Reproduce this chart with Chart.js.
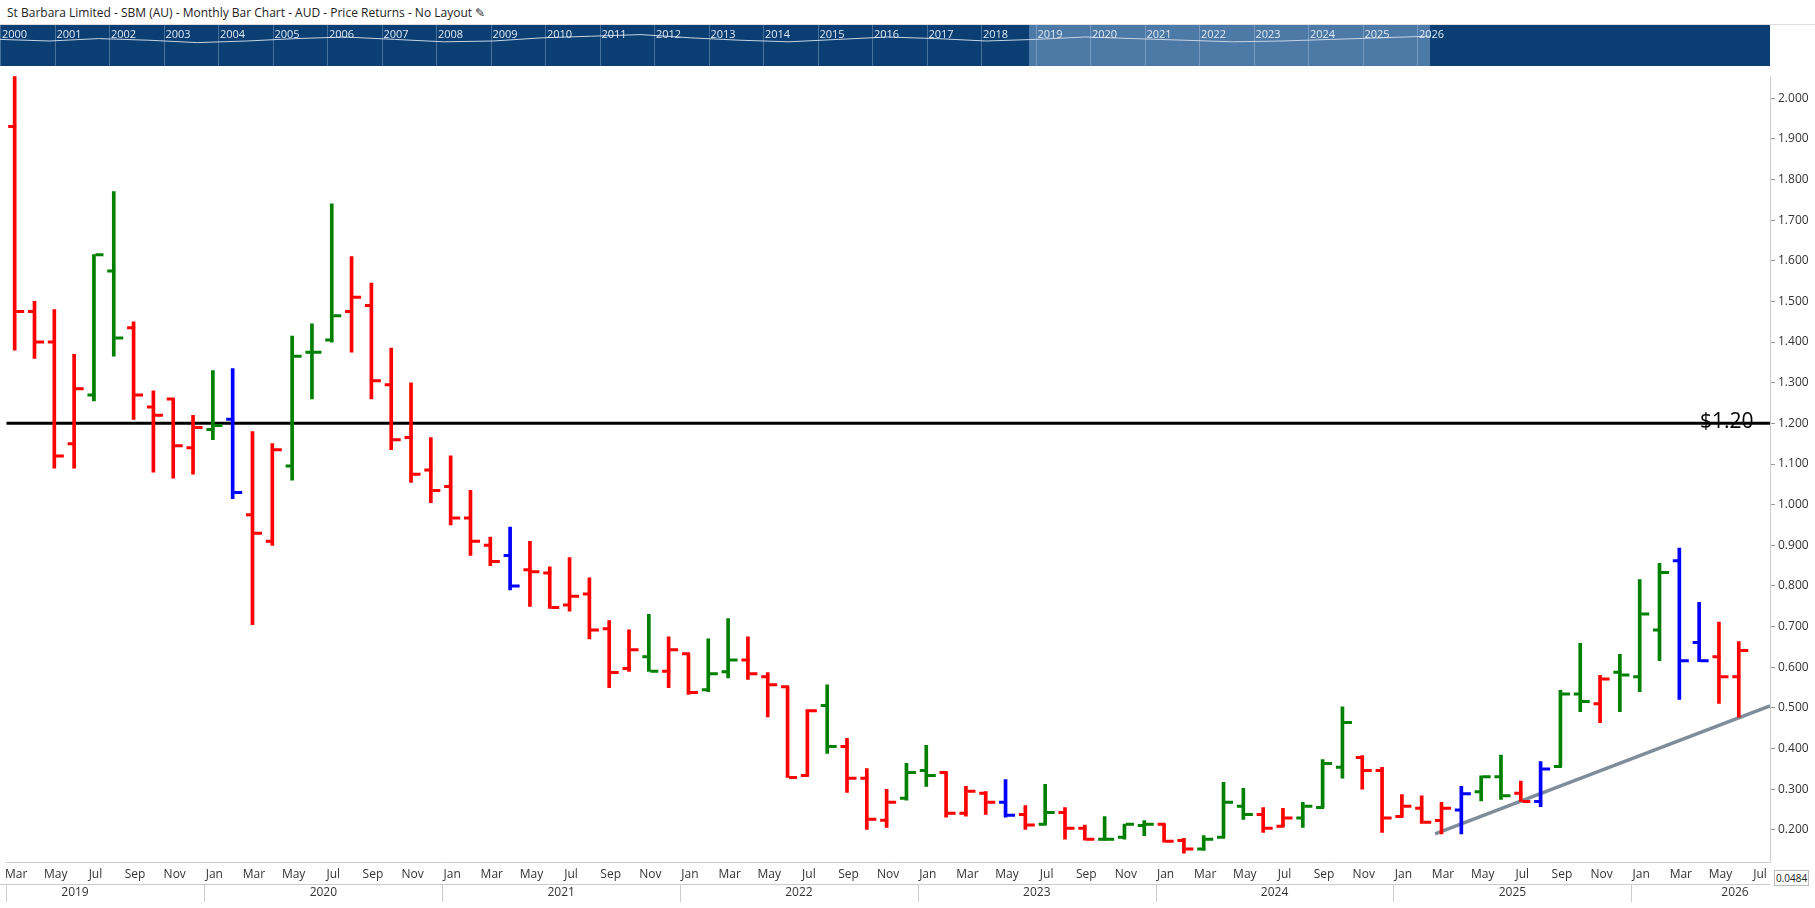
<!DOCTYPE html>
<html>
<head>
<meta charset="utf-8">
<script src="https://cdn.jsdelivr.net/npm/chart.js@4.4.1/dist/chart.umd.min.js"></script>
<style>
  body { margin: 0; width: 1815px; height: 908px; background: #fff; font-family: "Open Sans", sans-serif; overflow: hidden; }
  #title { height: 25px; line-height: 25px; font-size: 12px; color: #222; padding-left: 7px; border-bottom: 1px solid #ddd; box-sizing: border-box; }
  #nav { position: relative; height: 41px; width: 1770px; background: #0b3f74; overflow: hidden; }
  #nav .sel { position: absolute; left: 1029px; width: 401px; top: 0; height: 41px; background: #4d79a6; }
  #nav span { position: absolute; top: 1px; font-size: 11px; color: #dfe8f2; }
  #nav canvas { position: absolute; left: 0; top: 0; }
  #box { position: relative; width: 1815px; height: 836px; }
  #val { position: absolute; left: 1774px; top: 870px; font-size: 10px; color: #222; border: 1px solid #bbb; padding: 0 1px; background: #fff; }
</style>
</head>
<body>
<div id="title">St Barbara Limited - SBM (AU) - Monthly Bar Chart - AUD - Price Returns - No Layout &#9998;</div>
<div id="nav"><div class="sel"></div><canvas id="navline" width="1770" height="41"></canvas></div>
<div id="box"><canvas id="chart"></canvas></div>
<div id="val">0.0484</div>
<script>
const monthNames = ['Jan','Feb','Mar','Apr','May','Jun','Jul','Aug','Sep','Oct','Nov','Dec'];
const startYear = 2019, startMonth = 2; // Mar 2019

// one bar per month, Mar 2019 .. Jun 2026
const opens = [1.93,1.475,1.40,1.15,1.27,1.575,1.435,1.24,1.26,1.14,
  1.185,1.21,0.975,0.91,1.095,1.375,1.405,1.475,1.49,1.295,1.165,1.085,
  1.045,0.967,0.90,0.875,0.84,0.832,0.753,0.78,0.695,0.597,0.626,0.59,
  0.633,0.545,0.589,0.618,0.577,0.552,0.334,0.506,0.405,0.327,0.224,0.278,
  0.346,0.341,0.241,0.29,0.268,0.238,0.214,0.243,0.204,0.177,0.182,0.211,
  0.214,0.174,0.153,0.182,0.258,0.238,0.209,0.229,0.255,0.354,0.378,0.346,
  0.233,0.253,0.223,0.249,0.294,0.331,0.29,0.27,0.356,0.534,0.51,0.588,
  0.577,0.692,0.862,0.661,0.626,0.577];
const highs = [2.06,1.50,1.48,1.37,1.615,1.77,1.45,1.28,1.26,1.22,
  1.33,1.335,1.18,1.15,1.415,1.445,1.74,1.61,1.545,1.385,1.30,1.165,
  1.12,1.035,0.92,0.945,0.91,0.847,0.87,0.82,0.715,0.692,0.73,0.675,
  0.633,0.67,0.72,0.675,0.587,0.552,0.496,0.557,0.425,0.351,0.30,0.364,
  0.408,0.341,0.307,0.294,0.324,0.26,0.312,0.255,0.212,0.233,0.214,0.223,
  0.214,0.179,0.186,0.317,0.302,0.255,0.253,0.268,0.373,0.503,0.383,0.354,
  0.287,0.284,0.268,0.307,0.333,0.384,0.32,0.368,0.543,0.659,0.58,0.632,
  0.816,0.856,0.893,0.76,0.711,0.663];
const lows = [1.38,1.36,1.09,1.09,1.255,1.365,1.21,1.08,1.065,1.075,
  1.16,1.015,0.705,0.90,1.06,1.26,1.40,1.375,1.26,1.135,1.055,1.005,
  0.95,0.875,0.85,0.79,0.75,0.745,0.738,0.67,0.55,0.59,0.59,0.55,
  0.533,0.54,0.574,0.57,0.478,0.329,0.334,0.388,0.292,0.201,0.206,0.273,
  0.307,0.231,0.234,0.238,0.231,0.201,0.214,0.177,0.175,0.175,0.177,0.186,
  0.17,0.143,0.15,0.182,0.226,0.194,0.209,0.206,0.255,0.327,0.30,0.194,
  0.233,0.216,0.19,0.19,0.271,0.275,0.27,0.257,0.356,0.491,0.464,0.491,
  0.54,0.616,0.521,0.614,0.511,0.477];
const closes = [1.475,1.40,1.12,1.285,1.615,1.41,1.27,1.22,1.145,1.19,
  1.195,1.03,0.93,1.135,1.365,1.375,1.465,1.51,1.305,1.16,1.075,1.035,
  0.967,0.91,0.86,0.80,0.835,0.747,0.775,0.692,0.587,0.643,0.59,0.643,
  0.538,0.584,0.618,0.584,0.557,0.329,0.493,0.405,0.327,0.226,0.268,0.341,
  0.334,0.241,0.295,0.268,0.236,0.212,0.243,0.204,0.177,0.177,0.214,0.214,
  0.172,0.153,0.177,0.268,0.238,0.204,0.229,0.258,0.363,0.464,0.346,0.229,
  0.258,0.219,0.253,0.289,0.331,0.284,0.27,0.35,0.534,0.516,0.571,0.581,
  0.731,0.833,0.616,0.616,0.577,0.641];
// r = red, g = green, b = blue
const barColours = 'rrrrggrrrrgbrrgggrrrrrrrrbrrrrrrgrrggrrrrgrrrggrrrbrgrrgggrrgggrrgggrrrrrbggrbggrgggbbrr';

const yTicks = [0.2,0.3,0.4,0.5,0.6,0.7,0.8,0.9,1.0,1.1,1.2,1.3,1.4,1.5,1.6,1.7,1.8,1.9,2.0];
const levelPoints = [{x: -0.5, y: 1.2}, {x: 88.5, y: 1.2}];
const trendPoints = [{x: 71.6, y: 0.19}, {x: 88.5, y: 0.505}];
const navYears = ['2000','2001','2002','2003','2004','2005','2006','2007','2008','2009','2010','2011','2012','2013',
  '2014','2015','2016','2017','2018','2019','2020','2021','2022','2023','2024','2025','2026'];
const navLine = [58,60,57,59,62,60,57,55,58,61,60,56,54,52,56,59,61,58,55,57,60,58,55,57,59,61,60,58,56,54];

const colourMap = {r: '#ff0000', g: '#008000', b: '#0000ff'};
const labels = [];
for (let i = 0; i < opens.length + 1; i++) labels.push(monthNames[(startMonth + i) % 12]);
const yearOf = i => startYear + Math.floor((startMonth + i) / 12);

// navigator strip
const nav = document.getElementById('nav');
navYears.forEach((y, i) => {
  const s = document.createElement('span');
  s.textContent = y;
  s.style.left = (2 + i * 54.5) + 'px';
  nav.appendChild(s);
  const sep = document.createElement('div');
  sep.style.cssText = 'position:absolute;top:0;height:41px;width:1px;background:rgba(255,255,255,0.25);left:' + (i * 54.5) + 'px';
  nav.appendChild(sep);
});
const nctx = document.getElementById('navline').getContext('2d');
nctx.strokeStyle = '#c8d4e2'; nctx.lineWidth = 1; nctx.beginPath();
navLine.forEach((v, i) => { const x = i * 1430 / (navLine.length - 1), y = (v - 40) * 0.8; i ? nctx.lineTo(x, y) : nctx.moveTo(x, y); });
nctx.stroke();

const ohlcTicks = {
  id: 'ohlcTicks',
  afterDatasetsDraw(chart) {
    const {ctx, scales: {x, y}} = chart;
    ctx.save();
    ctx.lineWidth = 3;
    opens.forEach((o, i) => {
      const px = x.getPixelForValue(i);
      ctx.strokeStyle = colourMap[barColours[i]];
      ctx.beginPath();
      ctx.moveTo(px - 8, y.getPixelForValue(o)); ctx.lineTo(px, y.getPixelForValue(o));
      ctx.moveTo(px, y.getPixelForValue(closes[i])); ctx.lineTo(px + 8, y.getPixelForValue(closes[i]));
      ctx.stroke();
    });
    ctx.fillStyle = '#000';
    ctx.font = '21px "Open Sans"';
    ctx.textBaseline = 'middle';
    ctx.fillText('$1.20', 1700, y.getPixelForValue(1.2) - 1);
    ctx.restore();
  },
  afterDraw(chart) {
    const {ctx, scales: {x}, chartArea} = chart;
    const top = chartArea.bottom + 22, bottom = chartArea.bottom + 40;
    ctx.save();
    ctx.strokeStyle = '#ccc'; ctx.lineWidth = 1;
    ctx.beginPath(); ctx.moveTo(0, top + 0.5); ctx.lineTo(chartArea.right, top + 0.5); ctx.stroke();
    ctx.fillStyle = '#333'; ctx.font = '12px "Open Sans"'; ctx.textAlign = 'center'; ctx.textBaseline = 'middle';
    const years = {};
    labels.forEach((l, i) => { const yr = yearOf(i); (years[yr] = years[yr] || []).push(i); });
    Object.keys(years).forEach(yr => {
      const idx = years[yr];
      const half = (x.getPixelForValue(1) - x.getPixelForValue(0)) / 2;
      const x0 = Math.max(chartArea.left, x.getPixelForValue(idx[0]) - half);
      const x1 = Math.min(chartArea.right, x.getPixelForValue(idx[idx.length - 1]) + half);
      ctx.beginPath(); ctx.moveTo(Math.round(x0) + 0.5, top); ctx.lineTo(Math.round(x0) + 0.5, bottom); ctx.stroke();
      let lx = (x0 + x1) / 2;
      if (yr == startYear) lx = 75;
      else if (idx.length < 12) lx = x1 - 35;
      ctx.fillText(yr, lx, (top + bottom) / 2);
    });
    ctx.restore();
  }
};

new Chart(document.getElementById('chart'), {
  data: {
    labels: labels,
    datasets: [
      {type: 'bar', data: lows.map((l, i) => [l, highs[i]]),
       backgroundColor: [...barColours].map(c => colourMap[c]), barThickness: 3, xAxisID: 'x', yAxisID: 'y'},
      {type: 'line', data: levelPoints, borderColor: '#000', borderWidth: 3, pointRadius: 0, xAxisID: 'x2', yAxisID: 'y'},
      {type: 'line', data: trendPoints, borderColor: '#7f8c99', borderWidth: 3.5, pointRadius: 0, xAxisID: 'x2', yAxisID: 'y'}
    ]
  },
  options: {
    responsive: true,
    maintainAspectRatio: false,
    animation: false,
    layout: {padding: 0},
    plugins: {legend: {display: false}, tooltip: {enabled: false}},
    scales: {
      x: {
        offset: true,
        grid: {display: false, drawTicks: false},
        border: {color: '#ccc'},
        ticks: {
          autoSkip: false, maxRotation: 0, color: '#333', padding: 5,
          font: {family: 'Open Sans', size: 12},
          callback: (v, i) => (startMonth + i) % 2 === 0 ? labels[i] : ''
        },
        afterFit: s => { s.height = 40; }
      },
      x2: {type: 'linear', display: false, min: -0.5, max: 88.5},
      y: {
        position: 'right', min: 0.121, max: 2.054,
        grid: {drawOnChartArea: false, tickLength: 5, color: '#999'},
        border: {color: '#ccc'},
        afterBuildTicks: s => { s.ticks = yTicks.map(v => ({value: v})); },
        ticks: {color: '#333', font: {family: 'Open Sans', size: 12}, padding: 3, callback: v => v.toFixed(3)},
        afterFit: s => { s.width = 45; }
      }
    }
  },
  plugins: [ohlcTicks]
});
</script>
</body>
</html>
